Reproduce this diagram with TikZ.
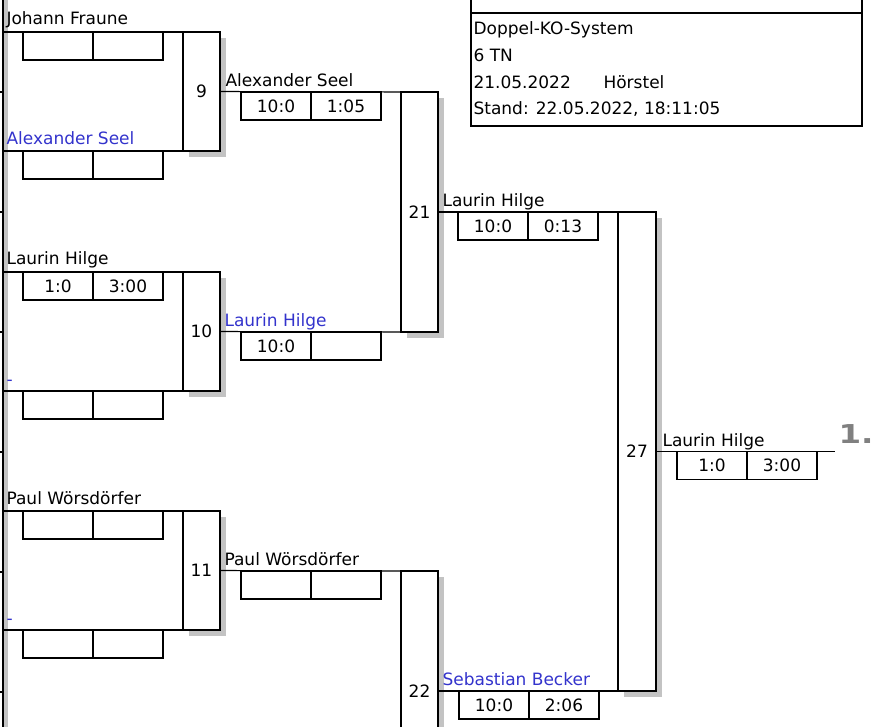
\documentclass[tikz,border=0pt]{standalone}
\usepackage{fontspec}
\setmainfont{DejaVu Sans}
\usetikzlibrary{shadows}
\usetikzlibrary{positioning}

\definecolor{loserblue}{RGB}{51,51,204}
\definecolor{shadowgray}{RGB}{195,195,195}

\begin{document}
\begin{tikzpicture}[x=1pt, y=-1pt, line width=1.1pt,
    every node/.style={font=\fontsize{17}{20}\selectfont},
    matchbox/.style={draw, fill=white, inner sep=0pt, outer sep=0pt, minimum width=37pt,
        drop shadow={shadow xshift=6pt, shadow yshift=-6pt, fill=shadowgray, opacity=1}},
    scorebox/.style={draw, inner sep=0pt, outer sep=0pt, minimum width=70pt,
        minimum height=28pt},
    player/.style={anchor=base west, inner sep=0pt},
    loser/.style={player, text=loserblue}]

    \useasboundingbox (0, 0) rectangle (875, 727);
    \clip (0, 0) rectangle (875, 727);

    % Left edge of the previous column
    \fill[shadowgray] (3, 0) rectangle (8, 727);
    \draw (3, 0) -- (3, 727);
    \foreach \y in {92,212,...,692}{
        \draw (0, \y) -- (3, \y);
    }

    % Match boxes
    \node[matchbox, minimum height=119pt] (m9) at (201.5, 91.5) {9};
    \node[matchbox, minimum height=119pt] (m10) at (201.5, 331.5) {10};
    \node[matchbox, minimum height=119pt] (m11) at (201.5, 570.5) {11};
    \node[matchbox, minimum height=240pt] (m21) at (419.5, 212) {21};
    \node[matchbox, minimum height=240pt] (m22) at (419.5, 691) {22};
    \node[matchbox, minimum width=38pt, minimum height=479pt] (m27) at (637, 451.5) {27};

    % Slots of the first column
    \foreach \m/\top/\bot in {m9/32/151, m10/272/391, m11/511/630}{
        \coordinate (\m-in-a) at (3, \top);
        \coordinate (\m-in-b) at (3, \bot);
        \draw (\m-in-a) -- (\m.north west);
        \draw (\m-in-b) -- (\m.south west);
    }

    % Winners move on
    \draw (m9.east) -- (m21.north west);
    \draw (m10.east) -- (m21.south west);
    \draw (m11.east) -- (m22.north west);
    \draw (m21.east) -- (m27.north west);
    \draw (m22.east) -- (m27.south west);
    \coordinate (champ) at (835, 451.5);
    \draw (m27.east) -- (champ);

    % Score boxes
    \foreach \nm/\x/\y/\l/\r in {s9a/23/32/{}/{}, s9b/23/151/{}/{},
        s10a/23/272/1:0/3:00, s10b/23/391/{}/{},
        s11a/23/511/{}/{}, s11b/23/630/{}/{},
        s21a/241/92/10:0/1:05, s21b/241/332/10:0/{},
        s22a/241/571/{}/{},
        s27a/458/212/10:0/0:13, s27b/459/691/10:0/2:06,
        sfin/677/451.5/1:0/3:00}{
        \node[scorebox, anchor=north west] (\nm-l) at (\x, \y) {\l};
        \node[scorebox, right=0pt of \nm-l] (\nm-r) {\r};
    }

    % Player names
    \foreach \nm/\x/\y/\txt/\sty in {n9a/6/25/Johann Fraune/player,
        n9b/6/145/Alexander Seel/loser,
        n10a/6/265/Laurin Hilge/player,
        n10b/6/385/-/loser,
        n11a/6/504/Paul Wörsdörfer/player,
        n11b/6/624/-/loser,
        n21a/225/87/Alexander Seel/player,
        n21b/224/326/Laurin Hilge/loser,
        n22a/224/565/Paul Wörsdörfer/player,
        n27a/442/207/Laurin Hilge/player,
        n27b/442/685/Sebastian Becker/loser,
        nfin/662/446/Laurin Hilge/player}{
        \node[\sty] (\nm) at (\x, \y) {\txt};
    }

    % Placing
    \node[player, text=gray, font=\fontsize{26}{30}\selectfont\bfseries] (rank) at (838, 443)
        {\scalebox{1.25}[1]{1.}};

    % Info box
    \node[draw, anchor=north west, inner sep=0pt, outer sep=0pt,
        minimum width=391pt, minimum height=113pt] (info) at (471, 13) {};
    \draw (info.north west) -- ++(0, -20);
    \draw (info.north east) -- ++(0, -20);
    \node[player] (sys) at (473, 35) {Doppel-KO-System};
    \node[player] (tn) at (473, 62) {6 TN};
    \node[player] (date) at (473, 89) {21.05.2022};
    \node[player] (place) at (603, 89) {Hörstel};
    \node[player] (stand) at (473, 115) {Stand: 22.05.2022, 18:11:05};

\end{tikzpicture}
\end{document}
